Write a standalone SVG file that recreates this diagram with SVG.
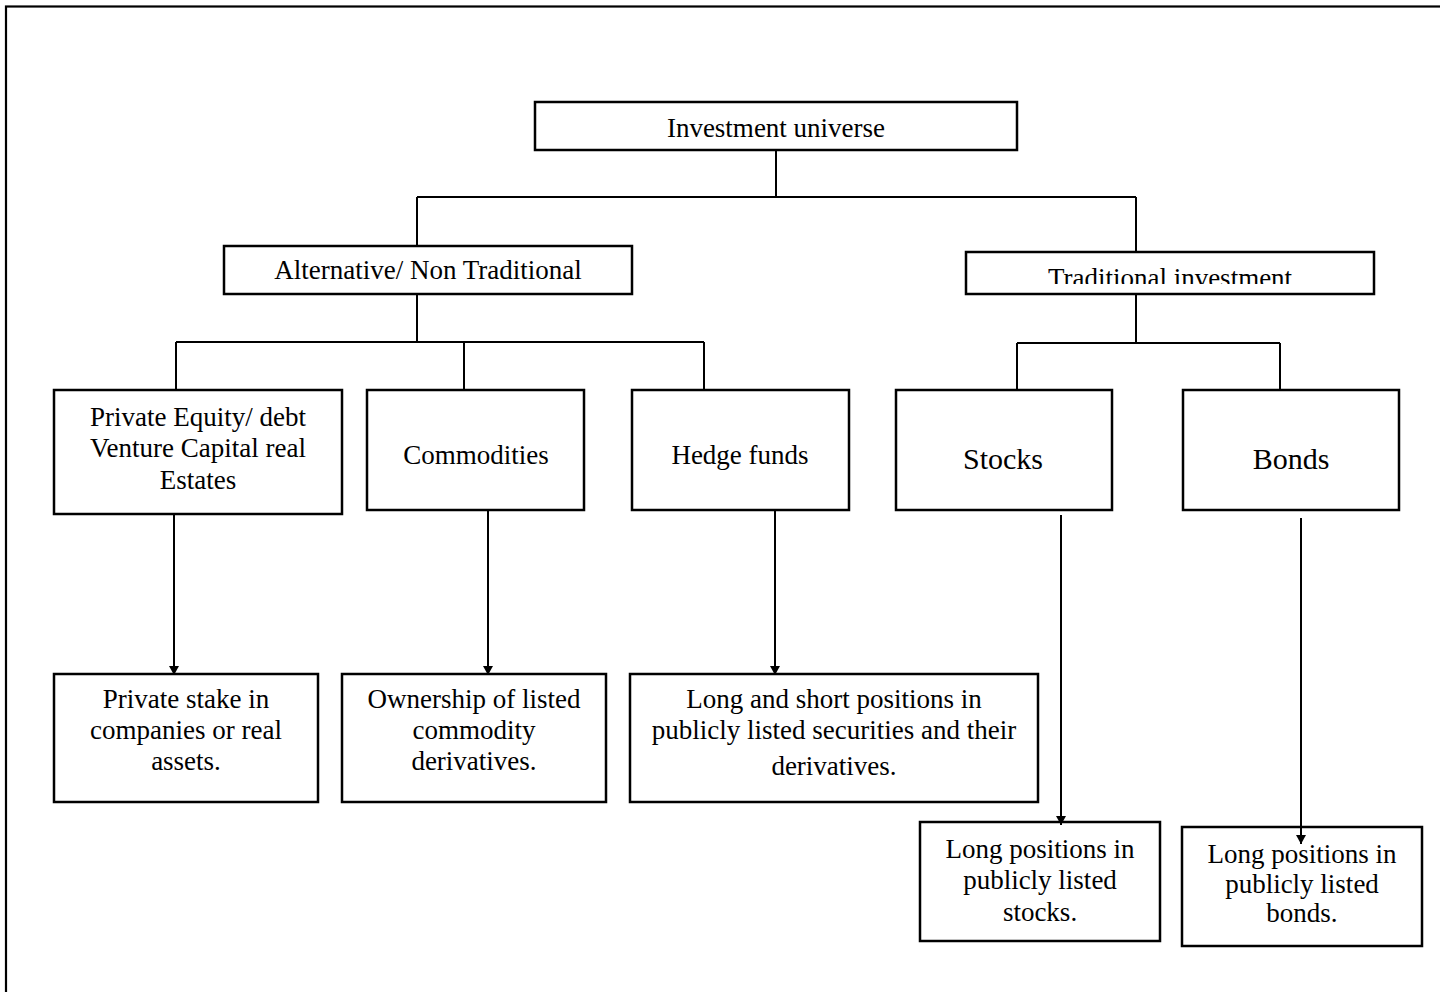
<svg xmlns="http://www.w3.org/2000/svg" width="1440" height="992" viewBox="0 0 1440 992">
<style>
.box{fill:#fff;stroke:#000;stroke-width:2.5}
.ln{fill:none;stroke:#000;stroke-width:2}
.t{font-family:"Liberation Serif","Times New Roman",serif;font-size:27px;fill:#000;text-anchor:middle}
.big{font-size:30px}
</style>
<defs>
<marker id="ah" viewBox="0 0 9 10" refX="9" refY="5" markerWidth="9" markerHeight="10" markerUnits="userSpaceOnUse" orient="auto">
<path d="M0,0 L9,5 L0,10 Z" fill="#000"/>
</marker>
<clipPath id="clipTrad"><rect x="966" y="252" width="408" height="32"/></clipPath>
</defs>
<rect x="0" y="0" width="1440" height="992" fill="#fff"/>
<rect x="6" y="6.5" width="1500" height="1100" fill="none" stroke="#000" stroke-width="2.2"/>

<g id="n-universe">
<rect class="box" x="535" y="102" width="482" height="48"/>
<text class="t" x="776" y="137">Investment universe</text>
</g>
<g id="n-alternative">
<rect class="box" x="224" y="246" width="408" height="48"/>
<text class="t" x="428" y="279">Alternative/ Non Traditional</text>
</g>
<g id="n-traditional">
<rect class="box" x="966" y="252" width="408" height="42"/>
<text class="t" x="1170" y="287" clip-path="url(#clipTrad)">Traditional investment</text>
</g>

<g id="n-private-equity">
<rect class="box" x="54" y="390" width="288" height="124"/>
<text class="t" x="198" y="426">Private Equity/ debt</text>
<text class="t" x="198" y="457">Venture Capital real</text>
<text class="t" x="198" y="489">Estates</text>
</g>
<g id="n-commodities">
<rect class="box" x="367" y="390" width="217" height="120"/>
<text class="t" x="476" y="464">Commodities</text>
</g>
<g id="n-hedge">
<rect class="box" x="632" y="390" width="217" height="120"/>
<text class="t" x="740" y="464">Hedge funds</text>
</g>
<g id="n-stocks">
<rect class="box" x="896" y="390" width="216" height="120"/>
<text class="t big" x="1003" y="469">Stocks</text>
</g>
<g id="n-bonds">
<rect class="box" x="1183" y="390" width="216" height="120"/>
<text class="t big" x="1291" y="469">Bonds</text>
</g>

<g id="n-private-stake">
<rect class="box" x="54" y="674" width="264" height="128"/>
<text class="t" x="186" y="708">Private stake in</text>
<text class="t" x="186" y="739">companies or real</text>
<text class="t" x="186" y="770">assets.</text>
</g>
<g id="n-ownership">
<rect class="box" x="342" y="674" width="264" height="128"/>
<text class="t" x="474" y="708">Ownership of listed</text>
<text class="t" x="474" y="739">commodity</text>
<text class="t" x="474" y="770">derivatives.</text>
</g>
<g id="n-long-short">
<rect class="box" x="630" y="674" width="408" height="128"/>
<text class="t" x="834" y="708">Long and short positions in</text>
<text class="t" x="834" y="739">publicly listed securities and their</text>
<text class="t" x="834" y="775">derivatives.</text>
</g>
<g id="n-long-stocks">
<rect class="box" x="920" y="822" width="240" height="119"/>
<text class="t" x="1040" y="858">Long positions in</text>
<text class="t" x="1040" y="889">publicly listed</text>
<text class="t" x="1040" y="921">stocks.</text>
</g>
<g id="n-long-bonds">
<rect class="box" x="1182" y="827" width="240" height="119"/>
<text class="t" x="1302" y="863">Long positions in</text>
<text class="t" x="1302" y="893">publicly listed</text>
<text class="t" x="1302" y="922">bonds.</text>
</g>

<g id="connectors">
<path class="ln" d="M776,151 V197 M417,197 H1136 M417,197 V245 M1136,197 V251"/>
<path class="ln" d="M417,295 V342 M176,342 H704 M176,342 V389 M464,342 V389 M704,342 V389"/>
<path class="ln" d="M1136,295 V343 M1017,343 H1280 M1017,343 V389 M1280,343 V389"/>
<path class="ln" d="M174,515 V675" marker-end="url(#ah)"/>
<path class="ln" d="M488,511 V675" marker-end="url(#ah)"/>
<path class="ln" d="M775,511 V675" marker-end="url(#ah)"/>
<path class="ln" d="M1061,515 V825" marker-end="url(#ah)"/>
<path class="ln" d="M1301,518 V844" marker-end="url(#ah)"/>
</g>
</svg>
